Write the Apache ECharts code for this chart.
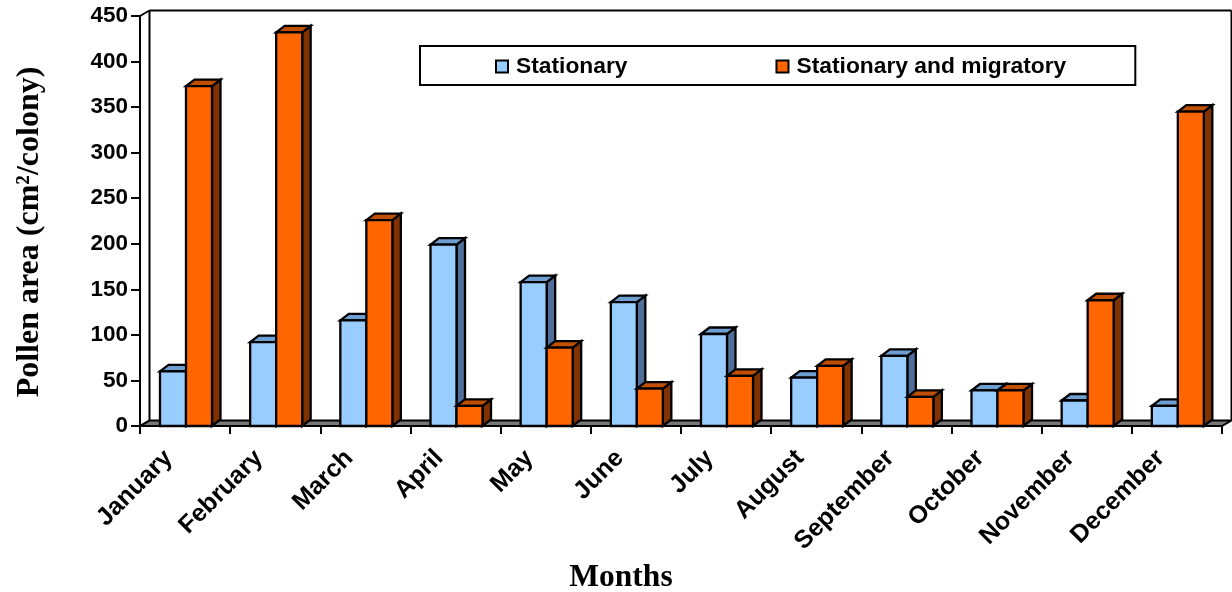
<!DOCTYPE html>
<html><head><meta charset="utf-8">
<style>html,body{margin:0;padding:0;background:#fff}#c{width:1232px;height:592px}</style>
<script src="https://cdn.jsdelivr.net/npm/echarts@6/dist/echarts.min.js"></script>
</head><body><div id="c"></div>
<script>
const months = ['January','February','March','April','May','June','July','August','September','October','November','December'];
const stationary = [60,92,116,199,158,136,101,53,77,39,28,22];
const stationaryAndMigratory = [373,432,226,22,86,41,55,66,32,39,138,345];
const seriesNames = ['Stationary','Stationary and migratory'];
const yMax = 450, yStep = 50;

const DX = 9.5, DY = -5.5, BDX = 8.5, BDY = -6.5, BAR_FRAC = 26/90.17, GAP_FRAC = 20/90.17;
const line = {stroke:'#000', lineWidth:2.3, lineJoin:'miter'};

function bar3d(seriesIdx, front, top, side){
  return function(params, api){
    const idx = api.value(0), v = api.value(1);
    const band = api.size([1,0])[0];
    const base = api.coord([idx, 0]);
    const tip = api.coord([idx, v]);
    const w = band*BAR_FRAC;
    const x0 = base[0] - band/2 + band*GAP_FRAC + seriesIdx*w;
    const x1 = x0 + w, y0 = tip[1], y1 = base[1];
    const poly = (pts, fill) => ({type:'polygon', shape:{points:pts}, style:Object.assign({fill}, line)});
    return {type:'group', children:[
      poly([[x1,y0],[x1+BDX,y0+BDY],[x1+BDX,y1+BDY],[x1,y1]], side),
      poly([[x0,y0],[x0+BDX,y0+BDY],[x1+BDX,y0+BDY],[x1,y0]], top),
      poly([[x0,y0],[x1,y0],[x1,y1],[x0,y1]], front)
    ]};
  };
}
function walls(params, api){
  const band = api.size([1,0])[0];
  const first = api.coord([0, 0]);
  const last = api.coord([months.length-1, 0]);
  const tp = api.coord([0, yMax]);
  const o = [first[0]-band/2, first[1]];
  const e = [last[0]+band/2, last[1]];
  const t = [o[0], tp[1]];
  const segs = [
    [[o[0],o[1]],[o[0]+DX,o[1]+DY]],
    [[o[0]+DX,o[1]+DY],[o[0]+DX,t[1]+DY]],
    [[t[0],t[1]],[t[0]+DX,t[1]+DY]],
    [[t[0]+DX,t[1]+DY],[e[0]+DX,t[1]+DY]],
    [[e[0]+DX,t[1]+DY],[e[0]+DX,e[1]+DY]]
  ];
  return {type:'group', children:[
    {type:'polygon', shape:{points:[[o[0],o[1]],[o[0]+DX,o[1]+DY],[e[0]+DX,e[1]+DY],[e[0],e[1]]]},
     style:{fill:'#777777', stroke:'#000', lineWidth:2}}
  ].concat(segs.map(s=>({type:'line', shape:{x1:s[0][0],y1:s[0][1],x2:s[1][0],y2:s[1][1]}, style:{stroke:'#000',lineWidth:2}})))};
}
const chart = echarts.init(document.getElementById('c'), null, {renderer:'canvas'});
const sans = '"Liberation Sans", Arial, sans-serif', serif = '"Liberation Serif", "Times New Roman", serif';
chart.setOption({
  animation:false,
  backgroundColor:'#fff',
  grid:{left:140, right:10, top:16, bottom:166, containLabel:false, outerBoundsMode:'none'},
  legend:{
    left:420, top:46, orient:'horizontal', padding:[9,69,7,75], itemGap:148, itemWidth:12, itemHeight:12,
    borderColor:'#000', borderWidth:2, backgroundColor:'#fff', selectedMode:false,
    textStyle:{fontFamily:sans, fontWeight:'bold', fontSize:22.8, color:'#000', padding:[0,0,0,3]},
    data:[
      {name:seriesNames[0], icon:'rect', itemStyle:{color:'#99ccff', borderColor:'#000', borderWidth:2}},
      {name:seriesNames[1], icon:'rect', itemStyle:{color:'#ff6600', borderColor:'#000', borderWidth:2}}
    ]
  },
  xAxis:{
    type:'category', data:months, name:'Months', nameLocation:'middle', nameGap:135,
    nameTextStyle:{fontFamily:serif, fontWeight:'bold', fontSize:31.5, color:'#000', padding:[0,120,0,0]},
    axisLine:{show:true, lineStyle:{color:'#000', width:2}},
    axisTick:{show:true, alignWithLabel:false, length:8, lineStyle:{color:'#000', width:2}},
    axisLabel:{rotate:45, interval:0, margin:12, padding:[0,23,0,0], fontFamily:sans, fontWeight:'bold', fontSize:25, color:'#000'},
    splitLine:{show:false}
  },
  yAxis:{
    type:'value', min:0, max:yMax, interval:yStep, name:'Pollen area (cm²/colony)', nameLocation:'middle', nameGap:94,
    nameTextStyle:{fontFamily:serif, fontWeight:'bold', fontSize:32, color:'#000', padding:[0,22,0,0]},
    axisLine:{show:true, lineStyle:{color:'#000', width:2}},
    axisTick:{show:true, length:9, lineStyle:{color:'#000', width:2}},
    axisLabel:{margin:12, fontFamily:sans, fontWeight:'bold', fontSize:22.5, color:'#000'},
    splitLine:{show:false}
  },
  series:[
    {type:'custom', silent:true, clip:false, z:1, renderItem:walls, data:[[0,0]], encode:{x:0,y:1}, legendHoverLink:false},
    {type:'custom', name:seriesNames[0], clip:false, z:2, itemStyle:{color:'#99ccff'},
     renderItem:bar3d(0,'#99ccff','#6f9fd0','#4f6f9a'), encode:{x:0,y:1},
     data:stationary.map((v,i)=>[i,v])},
    {type:'custom', name:seriesNames[1], clip:false, z:3, itemStyle:{color:'#ff6600'},
     renderItem:bar3d(1,'#ff6600','#c05000','#803300'), encode:{x:0,y:1},
     data:stationaryAndMigratory.map((v,i)=>[i,v])}
  ]
});
</script></body></html>
